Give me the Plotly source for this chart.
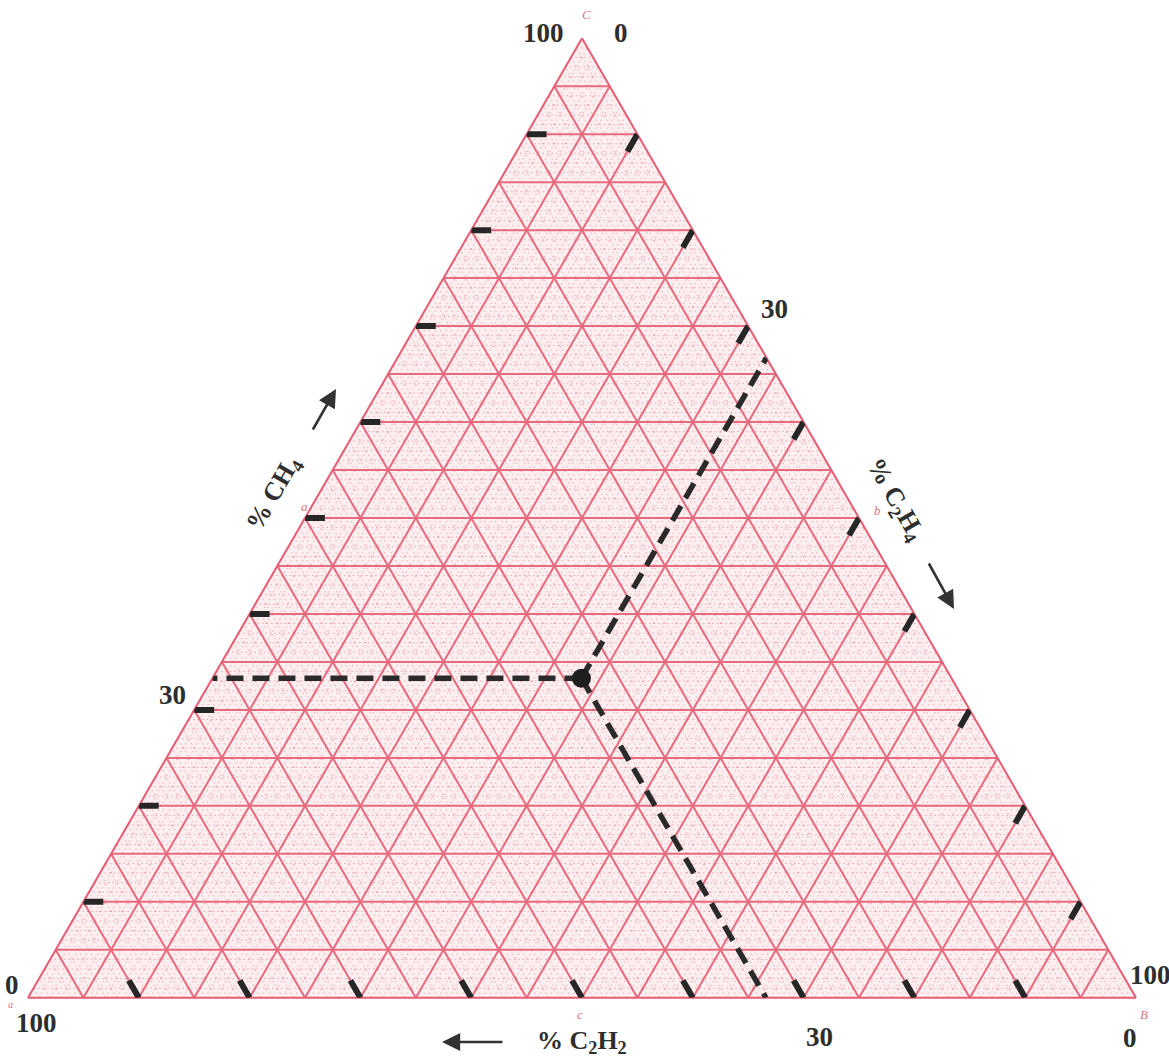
import plotly.graph_objects as go

# Sample gas composition, percent of (CH4 + C2H4 + C2H2)
sample_ch4 = [33.3]
sample_c2h4 = [33.3]
sample_c2h2 = [33.4]

# Heavy scale marks along every edge, percent
scale_marks = [10, 20, 30, 40, 50, 60, 70, 80, 90]

# Numbers printed around the triangle for each gas scale
ch4_numbers = [100, 30, 0]
c2h4_numbers = [0, 30, 100]
c2h2_numbers = [100, 30, 0]

# Page geometry
W, H = 1169, 1060
ML, MT, PW, PH = 28, 38, 1108, 960

GRID = "#e86a7e"
EDGE = "#e65c72"
FINE = "rgba(226,104,124,0.55)"
INK = "#2e2e2e"
RED_TXT = "#e27585"
SERIF = "Liberation Serif"


def paper_xy(px, py):
    """Pixel position on the page -> paper coordinates."""
    return (px - ML) / PW, 1 - (py - MT) / PH


def tern_paper(a, b, c):
    """Ternary point (a top, b left, c right) -> paper coordinates."""
    s = a + b + c
    return (c + a / 2) / s, a / s


fig = go.Figure()

# fine 1 % dotted rulings
for axis in range(3):
    A, B, C = [], [], []
    for k in range(1, 100):
        if k % 5 == 0:
            continue
        if axis == 0:      # constant CH4
            pts = [(k, 100 - k, 0), (k, 0, 100 - k)]
        elif axis == 1:    # constant C2H2
            pts = [(0, k, 100 - k), (100 - k, k, 0)]
        else:              # constant C2H4
            pts = [(0, 100 - k, k), (100 - k, 0, k)]
        for p in pts:
            A.append(p[0]); B.append(p[1]); C.append(p[2])
        A.append(None); B.append(None); C.append(None)
    fig.add_trace(go.Scatterternary(
        a=A, b=B, c=C, mode="lines",
        line=dict(color=FINE, width=1, dash="1.5px,3px"),
        hoverinfo="skip", showlegend=False))

# heavy black scale marks at every 10 %
TL = 1.8
A, B, C = [], [], []
for v in scale_marks:
    # left edge (CH4), along constant CH4
    for p in [(v, 100 - v, 0), (v, 100 - v - TL, TL)]:
        A.append(p[0]); B.append(p[1]); C.append(p[2])
    A.append(None); B.append(None); C.append(None)
    # bottom edge (C2H2), along constant C2H2
    for p in [(0, v, 100 - v), (TL, v, 100 - v - TL)]:
        A.append(p[0]); B.append(p[1]); C.append(p[2])
    A.append(None); B.append(None); C.append(None)
    # right edge (C2H4), along constant C2H4
    for p in [(100 - v, 0, v), (100 - v - TL, TL, v)]:
        A.append(p[0]); B.append(p[1]); C.append(p[2])
    A.append(None); B.append(None); C.append(None)
fig.add_trace(go.Scatterternary(
    a=A, b=B, c=C, mode="lines",
    line=dict(color="#262626", width=6),
    hoverinfo="skip", showlegend=False))

# dashed read-out lines from the sample point to each scale
ch4, c2h4, c2h2 = sample_ch4[0], sample_c2h4[0], sample_c2h2[0]
A = [ch4, ch4, None, ch4, 100 - c2h4, None, ch4, 0]
B = [c2h2, 100 - ch4, None, c2h2, 0, None, c2h2, c2h2]
C = [c2h4, 0, None, c2h4, c2h4, None, c2h4, 100 - c2h2]
fig.add_trace(go.Scatterternary(
    a=A, b=B, c=C, mode="lines",
    line=dict(color="#2a2a2a", width=5.5, dash="17px,9px"),
    hoverinfo="skip", showlegend=False))

# the sample point
fig.add_trace(go.Scatterternary(
    a=sample_ch4, b=sample_c2h2, c=sample_c2h4, mode="markers",
    marker=dict(color="#1e1e1e", size=19),
    hoverinfo="skip", showlegend=False))

axis_style = dict(
    tickmode="linear", tick0=0, dtick=5, min=0,
    showgrid=True, gridcolor=GRID, gridwidth=1.8,
    showline=True, linecolor=EDGE, linewidth=2,
    ticks="", showticklabels=False, layer="below traces",
    title=dict(text=""),
)

annotations = []
num_font = dict(family=SERIF, size=27, color=INK, weight="bold")
centred = dict(xref="paper", yref="paper", xanchor="center", yanchor="middle",
               showarrow=False)

# scale numbers: placed from their ternary positions with small offsets
shifts = {
    ("ch4", 100): (-39, 5), ("ch4", 30): (-22, 15), ("ch4", 0): (-16, 13),
    ("c2h4", 0): (39, 5), ("c2h4", 30): (26, 17), ("c2h4", 100): (14, 23),
    ("c2h2", 100): (8, -25), ("c2h2", 30): (16, -39), ("c2h2", 0): (-6, -40),
}
for v in ch4_numbers:
    x, y = tern_paper(v, 100 - v, 0)
    dx, dy = shifts[("ch4", v)]
    annotations.append(dict(x=x, y=y, text=str(v), xshift=dx, yshift=dy,
                            font=num_font, **centred))
for v in c2h4_numbers:
    x, y = tern_paper(100 - v, 0, v)
    dx, dy = shifts[("c2h4", v)]
    annotations.append(dict(x=x, y=y, text=str(v), xshift=dx, yshift=dy,
                            font=num_font, **centred))
for v in c2h2_numbers:
    x, y = tern_paper(0, v, 100 - v)
    dx, dy = shifts[("c2h2", v)]
    annotations.append(dict(x=x, y=y, text=str(v), xshift=dx, yshift=dy,
                            font=num_font, **centred))

# axis titles
title_font = dict(family=SERIF, size=26, color=INK, weight="bold")
for txt, (px, py), ang in [
    ("% CH<sub>4</sub>", (274, 494), -60),
    ("% C<sub>2</sub>H<sub>4</sub>", (895, 500), 60),
    ("% C<sub>2</sub>H<sub>2</sub>", (582, 1042), 0),
]:
    x, y = paper_xy(px, py)
    annotations.append(dict(x=x, y=y, text=txt, textangle=ang,
                            font=title_font, **centred))

# direction arrows
for (hx, hy), (tx, ty) in [
    ((336, 389), (312, 431)),
    ((954, 609), (928, 562)),
    ((442, 1042), (504, 1042)),
]:
    x, y = paper_xy(hx, hy)
    annotations.append(dict(x=x, y=y, xref="paper", yref="paper", text="",
                            showarrow=True, ax=tx - hx, ay=ty - hy,
                            arrowhead=2, arrowsize=1.4, arrowwidth=2.6,
                            arrowcolor="#333333", standoff=0, startstandoff=0))

# small red corner / side letters
for txt, (px, py), size in [
    ("C", (586, 14), 13), ("a", (304, 506), 13), ("b", (877, 510), 13),
    ("c", (580, 1014), 13), ("a", (10, 1004), 10), ("B", (1144, 1014), 13),
]:
    x, y = paper_xy(px, py)
    annotations.append(dict(x=x, y=y, text=txt,
                            font=dict(family=SERIF, size=size, color=RED_TXT,
                                      style="italic"),
                            **centred))

fig.update_layout(
    width=W, height=H,
    margin=dict(l=ML, t=MT, r=W - ML - PW, b=H - MT - PH, pad=0),
    paper_bgcolor="white",
    plot_bgcolor="white",
    showlegend=False,
    ternary=dict(
        sum=100,
        bgcolor="#fdeef0",
        domain=dict(x=[0, 1], y=[0, 1]),
        aaxis=axis_style,
        baxis=axis_style,
        caxis=axis_style,
    ),
    annotations=annotations,
)

fig.write_html("out.html")
